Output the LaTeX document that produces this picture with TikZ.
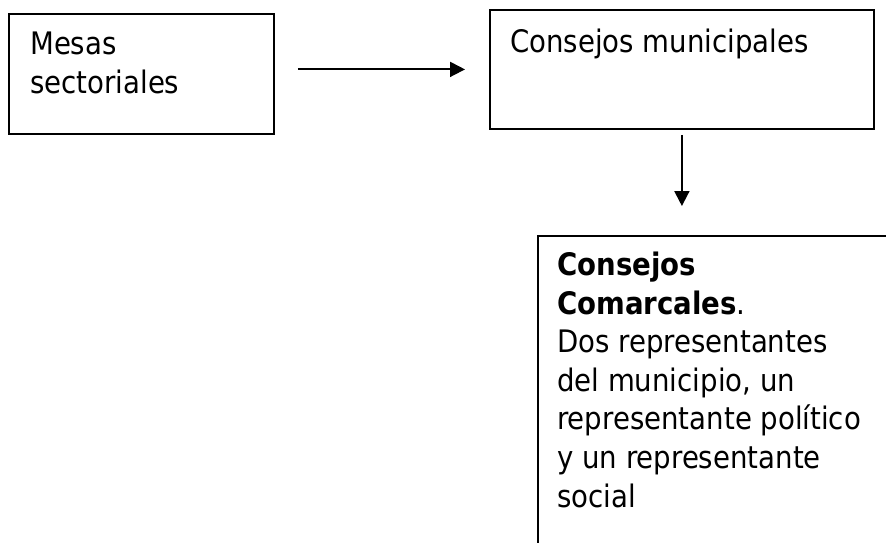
\documentclass[tikz,border=0pt]{standalone}
\usepackage{fontspec}
\setmainfont{DejaVu Sans}[FakeStretch=0.89]
\usetikzlibrary{arrows.meta}
\tikzset{
  box/.style={draw, line width=1.8pt, inner sep=0pt, anchor=north west},
  txt/.style={align=left, inner sep=0pt, anchor=base west, font=\fontsize{31}{38.6}\selectfont},
  arr/.style={-{Triangle[length=15pt,width=15pt]}, line width=1.9pt},
}
\begin{document}
\begin{tikzpicture}[x=1pt,y=-1pt]
    \useasboundingbox (0,0) rectangle (886,542);
    \clip (0,0) rectangle (886,542);
    % cajas
    \node[box, minimum width=265pt, minimum height=120pt] (mesas) at (8,13) {};
    \node[box, minimum width=384pt, minimum height=119pt] (consejos) at (489,9) {};
    \node[box, minimum width=400pt, minimum height=350pt] (comarcales) at (537,235) {};
    % textos (base = ultima linea)
    \node[txt] (mesastxt) at (30,93) {Mesas\\sectoriales};
    \node[txt] (consejostxt) at (510,52) {Consejos municipales};
    \node[txt] (comarcalestxt) at (557,507) {\textbf{Consejos}\\\textbf{Comarcales}.\\Dos representantes\\del municipio, un\\representante político\\y un representante\\social};
    % flechas
    \draw[arr, shorten <=23pt, shorten >=24pt] (mesas.east |- consejos.west) -- (consejos.west);
    \draw[arr, shorten <=5pt, shorten >=29pt] (consejos.south) -- (consejos.south |- comarcales.north);
\end{tikzpicture}
\end{document}
